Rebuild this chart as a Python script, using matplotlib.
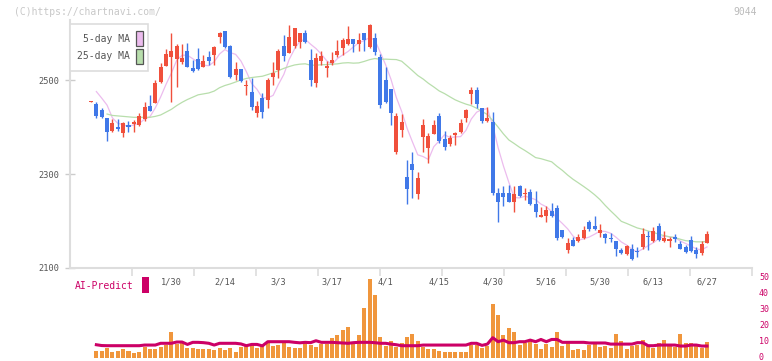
import numpy as np
import matplotlib
matplotlib.use("Agg")
import matplotlib.pyplot as plt
import matplotlib.transforms as mtransforms
from matplotlib.patches import Rectangle

plt.rcParams['font.family'] = ['DejaVu Sans Mono']

# ---------------- data ----------------
label_dates = ["1/30", "2/14", "3/3", "3/17", "4/1", "4/15", "4/30", "5/16", "5/30", "6/13", "6/27"]
label_index = [15, 25, 35, 45, 55, 65, 75, 85, 95, 105, 115]

opens = [2454, 2449, 2437, 2419, 2392, 2400, 2388, 2405, 2407, 2405, 2417, 2445, 2452, 2496, 2531, 2550,
         2546, 2538, 2562, 2526, 2545, 2529, 2549, 2553, 2593, 2605, 2573, 2511, 2524, 2487, 2476, 2431,
         2463, 2458, 2508, 2522, 2573, 2559, 2574, 2582, 2600, 2543, 2494, 2541, 2527, 2536, 2554, 2570,
         2577, 2588, 2578, 2600, 2572, 2590, 2549, 2500, 2481, 2348, 2394, 2293, 2321, 2257, 2378, 2355,
         2386, 2424, 2375, 2364, 2383, 2389, 2419, 2471, 2479, 2440, 2414, 2412, 2259, 2259, 2259, 2241,
         2274, 2257, 2262, 2237, 2209, 2210, 2221, 2227, 2180, 2138, 2159, 2158, 2164, 2198, 2188, 2175,
         2171, 2163, 2156, 2138, 2129, 2139, 2134, 2144, 2168, 2158, 2188, 2158, 2158, 2164, 2150, 2145,
         2159, 2138, 2131, 2153]
highs = [2455, 2454, 2440, 2420, 2417, 2417, 2412, 2414, 2415, 2430, 2454, 2468, 2500, 2536, 2566, 2600,
         2577, 2577, 2580, 2543, 2568, 2555, 2562, 2574, 2603, 2606, 2575, 2540, 2525, 2500, 2504, 2456,
         2472, 2504, 2540, 2566, 2597, 2618, 2612, 2602, 2607, 2567, 2558, 2562, 2542, 2561, 2586, 2591,
         2616, 2589, 2602, 2601, 2620, 2600, 2556, 2529, 2482, 2430, 2428, 2330, 2348, 2305, 2417, 2387,
         2415, 2430, 2392, 2383, 2390, 2417, 2438, 2485, 2486, 2441, 2444, 2433, 2270, 2274, 2276, 2274,
         2276, 2270, 2268, 2264, 2230, 2232, 2239, 2233, 2181, 2163, 2166, 2173, 2189, 2202, 2210, 2193,
         2175, 2174, 2157, 2142, 2149, 2150, 2144, 2184, 2178, 2187, 2195, 2179, 2166, 2172, 2157, 2149,
         2168, 2145, 2158, 2178]
lows = [2453, 2420, 2419, 2371, 2390, 2391, 2378, 2390, 2390, 2403, 2414, 2435, 2452, 2494, 2530, 2454,
        2486, 2535, 2528, 2518, 2523, 2528, 2532, 2533, 2579, 2568, 2504, 2500, 2497, 2469, 2437, 2422,
        2419, 2440, 2490, 2504, 2541, 2558, 2568, 2570, 2579, 2488, 2486, 2533, 2508, 2533, 2550, 2553,
        2575, 2561, 2562, 2562, 2570, 2553, 2440, 2451, 2405, 2343, 2380, 2237, 2248, 2247, 2346, 2323,
        2385, 2367, 2351, 2360, 2362, 2387, 2410, 2449, 2440, 2408, 2412, 2255, 2198, 2232, 2240, 2218,
        2251, 2244, 2234, 2209, 2208, 2198, 2209, 2160, 2163, 2131, 2146, 2155, 2161, 2179, 2180, 2166,
        2153, 2155, 2126, 2129, 2127, 2117, 2122, 2141, 2138, 2155, 2157, 2155, 2145, 2155, 2139, 2131,
        2133, 2120, 2128, 2153]
closes = [2454, 2424, 2422, 2390, 2409, 2396, 2409, 2400, 2411, 2423, 2442, 2435, 2494, 2528, 2557, 2562,
          2573, 2547, 2529, 2519, 2525, 2541, 2542, 2571, 2602, 2572, 2508, 2524, 2499, 2490, 2444, 2446,
          2433, 2500, 2516, 2562, 2552, 2593, 2611, 2600, 2581, 2500, 2547, 2551, 2529, 2543, 2562, 2586,
          2588, 2578, 2586, 2586, 2618, 2561, 2447, 2454, 2431, 2424, 2412, 2268, 2309, 2292, 2405, 2381,
          2405, 2370, 2358, 2376, 2387, 2408, 2437, 2479, 2449, 2414, 2419, 2259, 2241, 2252, 2241, 2257,
          2253, 2260, 2237, 2219, 2210, 2224, 2210, 2163, 2165, 2152, 2147, 2166, 2180, 2182, 2182, 2180,
          2163, 2161, 2140, 2131, 2146, 2118, 2133, 2172, 2166, 2179, 2159, 2164, 2159, 2162, 2141, 2133,
          2136, 2129, 2151, 2173]

ma5_early = {1: 2476, 2: 2462, 3: 2447}
ma25_early = {3: 2428, 4: 2425, 5: 2424, 6: 2423, 7: 2422, 8: 2421, 9: 2421, 10: 2421, 11: 2421,
              12: 2423, 13: 2426, 14: 2432, 15: 2438, 16: 2446, 17: 2453, 18: 2459, 19: 2464,
              20: 2469, 21: 2471, 22: 2473, 23: 2477}

volume = [np.nan,
          4.4, 4.4, 6.1, 3.6, 4.4, 5.4, 4.4, 3.1, 3.6, 6.5, 5.4, 5.4, 6.7, 8.1, 16.1,
          8.8, 9.0, 6.1, 6.3, 5.6, 5.4, 5.6, 5.0, 6.1, 4.8, 6.3, 3.8,
          6.5, 7.5, 7.7, 6.3, 8.1, 9.0, 7.3, 7.9, 9.0, 6.7, 6.3, 6.3, 9.0, 7.9, 6.7, 8.8, 8.8,
          12.3, 14.2, 17.3, 19.2, 8.8, 14.2, 31.3, 49.2, 39.4, 12.9, 7.5, 10.6, 6.7,
          9.0, 12.9, 14.8, 10.4, 6.5, 5.4, 5.4, 4.2, 3.8, 3.8, 3.8, 3.8, 3.8, 7.9, 7.9, 6.1, 7.5,
          33.6, 26.7, 14.2, 18.6, 16.1, 7.9, 9.0, 10.8, 8.8, 5.4, 8.8, 6.5, 16.1, 7.3, 9.0, 5.0,
          5.4, 4.8, 7.7, 8.3, 6.7, 7.3, 6.1, 14.8, 10.4, 5.4, 7.5, 7.9, 11.0, 7.5, 6.1, 9.2,
          10.8, 8.1, 6.5, 14.8, 9.2, 9.0, 7.3, 6.1, 9.8]

ai_predict = [np.nan,
              8.1, 7.6, 7.5, 7.5, 7.5, 7.5, 7.5, 7.5, 7.5, 7.9, 7.9, 7.9, 9.0, 9.0, 9.0,
              9.8, 9.8, 8.3, 9.6, 9.6, 9.4, 9.0, 7.9, 9.0, 9.0, 9.0, 9.0, 8.6, 7.5, 8.3,
              8.3, 7.4, 10.0, 10.0, 10.0, 10.0, 10.0, 9.6, 9.3, 9.6, 9.4, 10.6, 9.6, 9.6, 9.6,
              9.4, 9.2, 9.0, 9.4, 9.6, 9.6, 9.6, 9.4, 9.0, 9.0, 8.5, 8.1, 7.5, 7.5, 7.5,
              7.5, 7.9, 7.9, 7.9, 7.9, 7.9, 7.9, 7.9, 7.9, 7.9, 9.0, 9.0, 7.7, 8.5, 12.5,
              10.0, 11.0, 9.4, 9.4, 10.0, 10.0, 11.0, 10.0, 11.4, 10.0, 11.4, 11.4, 9.6, 9.6, 9.6,
              9.6, 9.6, 9.2, 9.2, 9.2, 9.2, 8.5, 8.5, 8.5, 8.5, 8.5, 9.4, 9.4, 7.5, 7.5,
              7.9, 7.9, 7.9, 7.9, 7.3, 7.3, 7.9, 7.9, 7.3, 7.3]

# ---------------- derived ----------------
n = len(closes)
idx = np.arange(n)
o = np.array(opens, float); h = np.array(highs, float)
l = np.array(lows, float); c = np.array(closes, float)

def moving_average(vals, w, early):
    out = np.full(len(vals), np.nan)
    for i in range(len(vals)):
        if i >= w - 1:
            out[i] = np.mean(vals[i - w + 1:i + 1])
        elif i in early:
            out[i] = early[i]
    return out

ma5 = moving_average(c, 5, ma5_early)
ma25 = moving_average(c, 25, ma25_early)

RED = '#f0503c'
BLUE = '#4078e8'
ORANGE = '#f0963c'
CRIMSON = '#cc0066'
PINK = '#ecbcee'
GREEN = '#b8deac'
AXIS = '#dddddd'
TXT = '#555555'

W, H = 772, 361
fig = plt.figure(figsize=(W / 100, H / 100), dpi=100)

def fx(x):
    return x / W

def fy(y):
    return 1 - y / H

# main price axes
ax = fig.add_axes([fx(70), fy(268), fx(682), 248 / H])
xlim = (-3.92, 123.4)
ax.set_xlim(*xlim)
ax.set_ylim(2099.4, 2628.7)

up = c >= o
colors = np.where(up, RED, BLUE)
ax.vlines(idx, l, h, colors=colors, linewidth=1.0, zorder=3)
body_bottom = np.minimum(o, c)
body_h = np.maximum(np.abs(c - o), 2.6)
ax.bar(idx, body_h, bottom=body_bottom, width=0.75, color=colors, linewidth=0, zorder=4)

ax.plot(idx, ma5, color=PINK, linewidth=0.9, zorder=2)
ax.plot(idx, ma25, color=GREEN, linewidth=0.9, zorder=2)

for side in ['top', 'right']:
    ax.spines[side].set_visible(False)
for side in ['left', 'bottom']:
    ax.spines[side].set_color(AXIS)
    ax.spines[side].set_linewidth(1.5)

ax.set_yticks([2100, 2300, 2500])
ax.tick_params(axis='y', direction='inout', length=7, width=1, color='#cccccc',
               labelsize=6.2, labelcolor=TXT, pad=4)
ax.set_xticks(label_index)
ax.set_xticklabels(label_dates)
ax.tick_params(axis='x', which='major', length=0, labelsize=6.2, labelcolor=TXT, pad=7)
ax.set_xticks(np.linspace(xlim[0], xlim[1], 12)[1:], minor=True)
ax.tick_params(axis='x', which='minor', direction='out', length=6, width=1.2, color=AXIS)

# volume axes
vax = fig.add_axes([fx(70), fy(357.7), fx(682), 80 / H])
vax.set_xlim(*xlim)
vax.set_ylim(0, 50)
vax.bar(idx, volume, width=0.75, color=ORANGE, linewidth=0, zorder=2)
vax.plot(idx, ai_predict, color=CRIMSON, linewidth=2.2, zorder=3)
for s in vax.spines.values():
    s.set_visible(False)
vax.set_xticks([])
vax.yaxis.tick_right()
vax.set_yticks([0, 10, 20, 30, 40, 50])
vax.tick_params(axis='y', length=0, labelsize=6.0, labelcolor=CRIMSON, pad=5)
shift = mtransforms.ScaledTranslation(0, 0.8 / 72, fig.dpi_scale_trans)
for lab in vax.get_yticklabels():
    lab.set_transform(lab.get_transform() + shift)
vax.patch.set_alpha(0)

# legend box
fig.add_artist(Rectangle((fx(70), fy(71)), fx(78), 47 / H, transform=fig.transFigure,
                         facecolor='white', edgecolor='#dddddd', linewidth=1.2, zorder=10))
fig.text(fx(130), fy(39), "5-day MA", ha='right', va='center', fontsize=7, color=TXT, zorder=11)
fig.text(fx(130), fy(56), "25-day MA", ha='right', va='center', fontsize=7, color=TXT, zorder=11)
fig.add_artist(Rectangle((fx(136), fy(46)), fx(7), 15 / H, transform=fig.transFigure,
                         facecolor=PINK, edgecolor='#555555', linewidth=0.9, zorder=11))
fig.add_artist(Rectangle((fx(136), fy(64)), fx(7), 15 / H, transform=fig.transFigure,
                         facecolor=GREEN, edgecolor='#555555', linewidth=0.9, zorder=11))

# AI-Predict label
fig.text(fx(75), fy(286), "AI-Predict", ha='left', va='center', fontsize=7, color=CRIMSON)
fig.add_artist(Rectangle((fx(142), fy(293)), fx(7), 16 / H, transform=fig.transFigure,
                         facecolor=CRIMSON, edgecolor='none'))

# watermark and code
fig.text(fx(14), fy(12), "(C)https://chartnavi.com/", ha='left', va='center', fontsize=7, color='#c8c8c8')
fig.text(fx(757), fy(12), "9044", ha='right', va='center', fontsize=7, color='#bbbbbb')

fig.savefig('out.png', dpi=100)
